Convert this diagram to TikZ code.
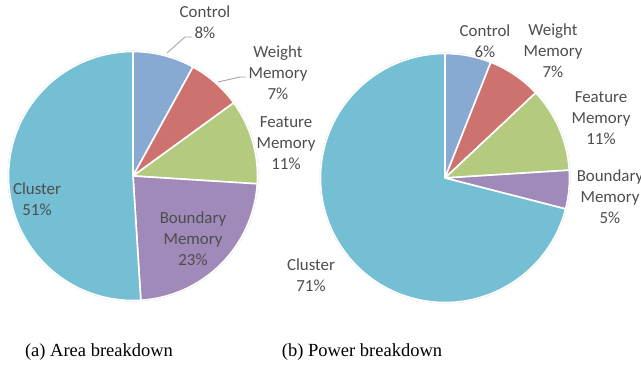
\documentclass[tikz,border=0pt]{standalone}
\usepackage{fontspec}
\setmainfont{Liberation Serif}
\newfontfamily\labelfont{Carlito}
\definecolor{cControl}{HTML}{88A9D1}
\definecolor{cWeight}{HTML}{CE726F}
\definecolor{cFeature}{HTML}{B4CA7E}
\definecolor{cBoundary}{HTML}{A08AB9}
\definecolor{cCluster}{HTML}{74BFD4}
\definecolor{labelgray}{HTML}{4D4D4D}
\definecolor{leadergray}{HTML}{A6A6A6}
\tikzset{
  slicelabel/.style={font=\labelfont\fontsize{16.9}{21}\selectfont, text=labelgray, align=center, inner sep=0pt},
  caption/.style={font=\fontsize{18.5}{22}\selectfont, inner sep=0pt},
  leader/.style={draw=leadergray, line width=0.9pt},
  slice/.style={draw=white, line width=1.6pt, line join=round},
  rim/.style={draw=gray!35, line width=0.6pt}
}
% one pie wedge: centre, start angle, end angle, colour
\newcommand{\pieWedge}[4]{%
  \fill[#4, slice] (#1) -- ++(#2:\pieR) arc[start angle=#2, end angle=#3, radius=\pieR] -- cycle;}
\begin{document}
\begin{tikzpicture}[x=1pt, y=1pt]
\useasboundingbox (0,0) rectangle (641,373);
\def\pieR{124.5}

% ---- area breakdown ----
\coordinate (ca) at (133,197);
\draw[rim] (ca) circle[radius=\pieR+0.6];
\pieWedge{ca}{90}{61.2}{cControl}
\pieWedge{ca}{61.2}{36}{cWeight}
\pieWedge{ca}{36}{-3.6}{cFeature}
\pieWedge{ca}{-3.6}{-86.4}{cBoundary}
\pieWedge{ca}{-86.4}{-270}{cCluster}

\node[slicelabel] (aCtl) at (205,351) {Control\\8\%};
\node[slicelabel] (aWgt) at (278,300) {Weight\\Memory\\7\%};
\node[slicelabel] (aFea) at (286,230) {Feature\\Memory\\11\%};
\node[slicelabel] (aBnd) at (193,134) {Boundary\\Memory\\23\%};
\node[slicelabel] (aClu) at (37,173.5) {Cluster\\51\%};

\coordinate (aCtlA) at (167,320);
\coordinate (aCtlB) at (185,336);
\coordinate (aCtlC) at (192,336);
\draw[leader] (aCtlA) -- (aCtlB) -- (aCtlC);
\coordinate (aWgtA) at (218,291);
\coordinate (aWgtB) at (240,296);
\coordinate (aWgtC) at (246,296);
\draw[leader] (aWgtA) -- (aWgtB) -- (aWgtC);

\node[caption] (capA) at (99,21) {(a) Area breakdown};

% ---- power breakdown ----
\coordinate (cb) at (445,195);
\draw[rim] (cb) circle[radius=\pieR+0.6];
\pieWedge{cb}{90}{68.4}{cControl}
\pieWedge{cb}{68.4}{43.2}{cWeight}
\pieWedge{cb}{43.2}{3.6}{cFeature}
\pieWedge{cb}{3.6}{-14.4}{cBoundary}
\pieWedge{cb}{-14.4}{-270}{cCluster}

\node[slicelabel] (bCtl) at (485,332) {Control\\6\%};
\node[slicelabel] (bWgt) at (553,322) {Weight\\Memory\\7\%};
\node[slicelabel] (bFea) at (601,255) {Feature\\Memory\\11\%};
\node[slicelabel] (bBnd) at (610,176) {Boundary\\Memory\\5\%};
\node[slicelabel] (bClu) at (311,98) {Cluster\\71\%};

\node[caption] (capB) at (362,21) {(b) Power breakdown};
\end{tikzpicture}
\end{document}
